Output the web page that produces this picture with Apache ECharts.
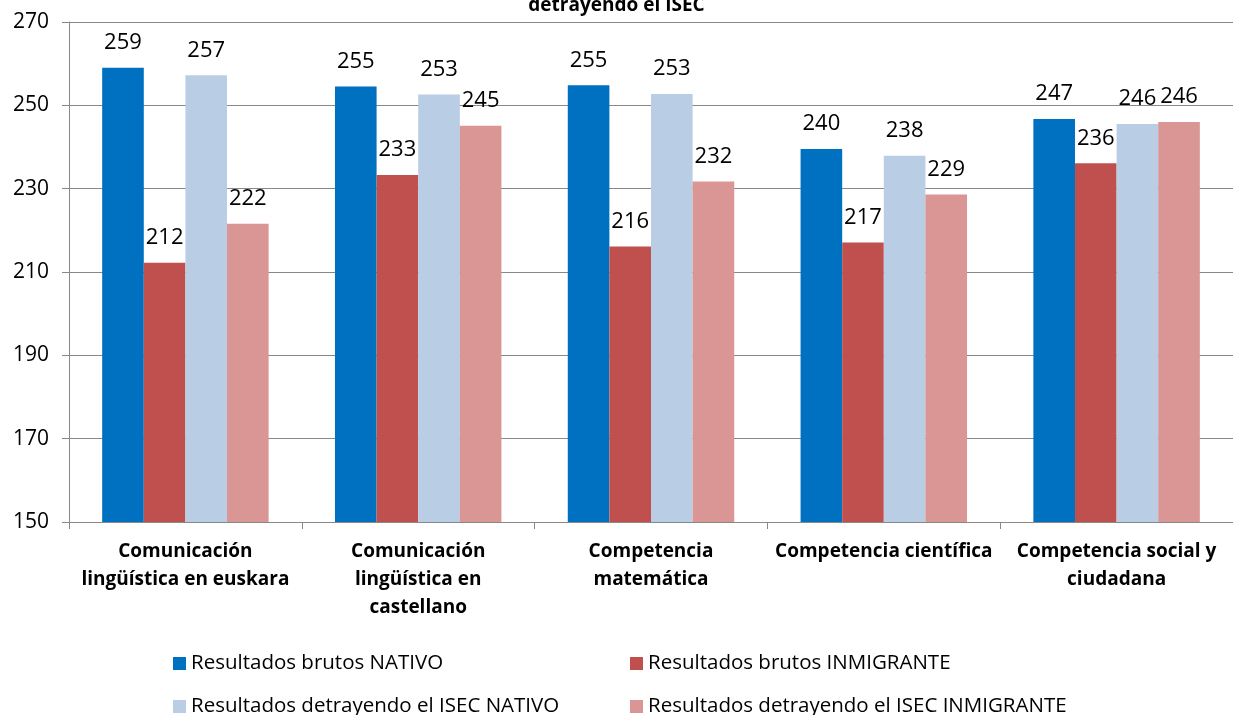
<!DOCTYPE html>
<html>
<head>
<meta charset="utf-8">
<script src="https://cdn.jsdelivr.net/npm/echarts@6/dist/echarts.min.js"></script>
<style>
html,body{margin:0;padding:0;background:#fff;}
#main{width:1233px;height:715px;}
</style>
</head>
<body>
<div id="main"></div>
<script>
// categorias
var categorias = ['Comunicación\nlingüística en euskara', 'Comunicación\nlingüística en\ncastellano', 'Competencia\nmatemática', 'Competencia científica', 'Competencia social y\nciudadana'];
// series
var brutosNativo = [259.0, 254.5, 254.8, 239.5, 246.7];
var brutosInmigrante = [212.2, 233.3, 216.1, 217.1, 236.1];
var isecNativo = [257.2, 252.6, 252.7, 237.9, 245.5];
var isecInmigrante = [221.6, 245.1, 231.7, 228.6, 246.0];
var nombres = ['Resultados brutos NATIVO', 'Resultados brutos INMIGRANTE', 'Resultados detrayendo el ISEC NATIVO', 'Resultados detrayendo el ISEC INMIGRANTE'];
var colores = ['#0070C0', '#C0504D', '#B9CDE5', '#D99694'];

var fuente = '"Open Sans", "Noto Sans", sans-serif';
var myChart = echarts.init(document.getElementById('main'));

function serie(i, datos) {
	return {
		name: nombres[i],
		type: 'bar',
		data: datos,
		barGap: '0%',
		barCategoryGap: '28.5%',
		itemStyle: { color: colores[i] },
		label: {
			show: true,
			position: 'top',
			distance: 14,
			color: '#000',
			fontFamily: fuente,
			fontSize: 22,
			formatter: function (p) { return Math.round(p.value); }
		}
	};
}

function leyenda(i, left, top) {
	return {
		data: [nombres[i]],
		left: left,
		top: top,
		itemWidth: 13,
		itemHeight: 13,
		icon: 'rect',
		textStyle: { fontFamily: fuente, fontSize: 20.5, color: '#000' }
	};
}

var option = {
	animation: false,
	title: {
		text: 'detrayendo el ISEC',
		left: 'center',
		top: -9,
		textStyle: { fontFamily: fuente, fontSize: 19, fontWeight: 'bold', color: '#000' }
	},
	legend: [
		leyenda(0, 168, 648),
		leyenda(1, 625, 648),
		leyenda(2, 168, 691),
		leyenda(3, 625, 691)
	],
	grid: { left: 69, right: -12, top: 22, bottom: 193, containLabel: false },
	xAxis: {
		type: 'category',
		data: categorias,
		axisLine: { lineStyle: { color: '#888', width: 1 } },
		axisTick: { show: true, length: 7, lineStyle: { color: '#888' } },
		axisLabel: {
			interval: 0,
			margin: 16,
			color: '#000',
			fontFamily: fuente,
			fontSize: 19,
			fontWeight: 'bold',
			lineHeight: 28
		}
	},
	yAxis: {
		type: 'value',
		min: 150,
		max: 270,
		interval: 20,
		axisLine: { show: true, lineStyle: { color: '#888', width: 1 } },
		axisTick: { show: true, length: 7, lineStyle: { color: '#888' } },
		splitLine: { show: true, lineStyle: { color: '#888', width: 1 } },
		axisLabel: { color: '#000', fontFamily: fuente, fontSize: 21, margin: 20 }
	},
	series: [
		serie(0, brutosNativo),
		serie(1, brutosInmigrante),
		serie(2, isecNativo),
		serie(3, isecInmigrante)
	]
};

myChart.setOption(option);
</script>
</body>
</html>
